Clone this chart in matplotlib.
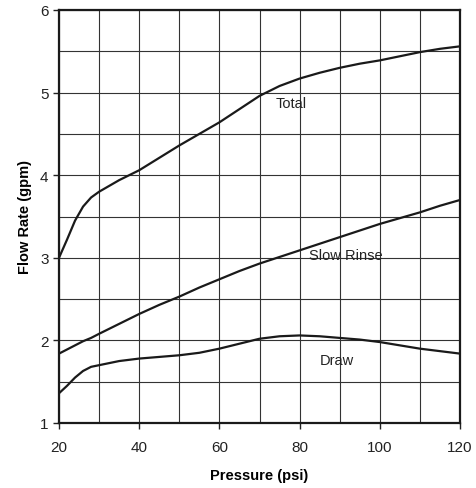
import numpy as np
import matplotlib.pyplot as plt
from matplotlib.ticker import MultipleLocator

plt.rcParams['font.family'] = ['Liberation Sans', 'DejaVu Sans']

# pressure (psi)
x = [20, 22, 24, 26, 28, 30, 35, 40, 45, 50, 55, 60, 65, 70, 75, 80, 85, 90, 95, 100, 105, 110, 115, 120]

# flow rates (gpm)
total = [3.0, 3.22, 3.45, 3.62, 3.73, 3.80, 3.94, 4.06, 4.21, 4.36, 4.5, 4.64, 4.80, 4.96, 5.08, 5.17, 5.24, 5.30, 5.35, 5.39, 5.44, 5.49, 5.53, 5.56]
slow_rinse = [1.84, 1.89, 1.94, 1.99, 2.03, 2.08, 2.2, 2.32, 2.43, 2.53, 2.64, 2.74, 2.84, 2.93, 3.01, 3.09, 3.17, 3.25, 3.33, 3.41, 3.48, 3.55, 3.63, 3.70]
draw = [1.36, 1.45, 1.55, 1.63, 1.68, 1.70, 1.75, 1.78, 1.80, 1.82, 1.85, 1.90, 1.96, 2.02, 2.05, 2.06, 2.05, 2.03, 2.01, 1.98, 1.94, 1.90, 1.87, 1.84]

labels = [('Total', 78, 4.87), ('Slow Rinse', 91.5, 3.03), ('Draw', 89.3, 1.76)]

fig = plt.figure(figsize=(4.76, 4.89), dpi=100)
ax = fig.add_axes([59/476, 1 - 424/489, 401/476, 413/489])

for y in (total, slow_rinse, draw):
    ax.plot(x, y, color='#1a1a1a', lw=1.6, solid_capstyle='round', zorder=3)

for txt, tx, ty in labels:
    ax.text(tx, ty, txt, ha='center', va='center', fontsize=10.5, color='#222222', zorder=4)

ax.set_xlim(20, 120)
ax.set_ylim(1, 6)
ax.xaxis.set_major_locator(MultipleLocator(20))
ax.xaxis.set_minor_locator(MultipleLocator(10))
ax.yaxis.set_major_locator(MultipleLocator(1))
ax.yaxis.set_minor_locator(MultipleLocator(0.5))
ax.grid(which='both', color='#333333', lw=0.8)
ax.tick_params(which='major', length=4, width=1, labelsize=11, colors='#222222')
ax.tick_params(which='minor', length=0)
ax.tick_params(axis='x', pad=8)

for s in ax.spines.values():
    s.set_linewidth(1.6)
    s.set_color('#1a1a1a')

ax.set_xlabel('Pressure (psi)', fontsize=10.5, fontweight='bold', labelpad=10)
ax.set_ylabel('Flow Rate (gpm)', fontsize=10.5, fontweight='bold', labelpad=6)

fig.savefig('out.png', dpi=100)
